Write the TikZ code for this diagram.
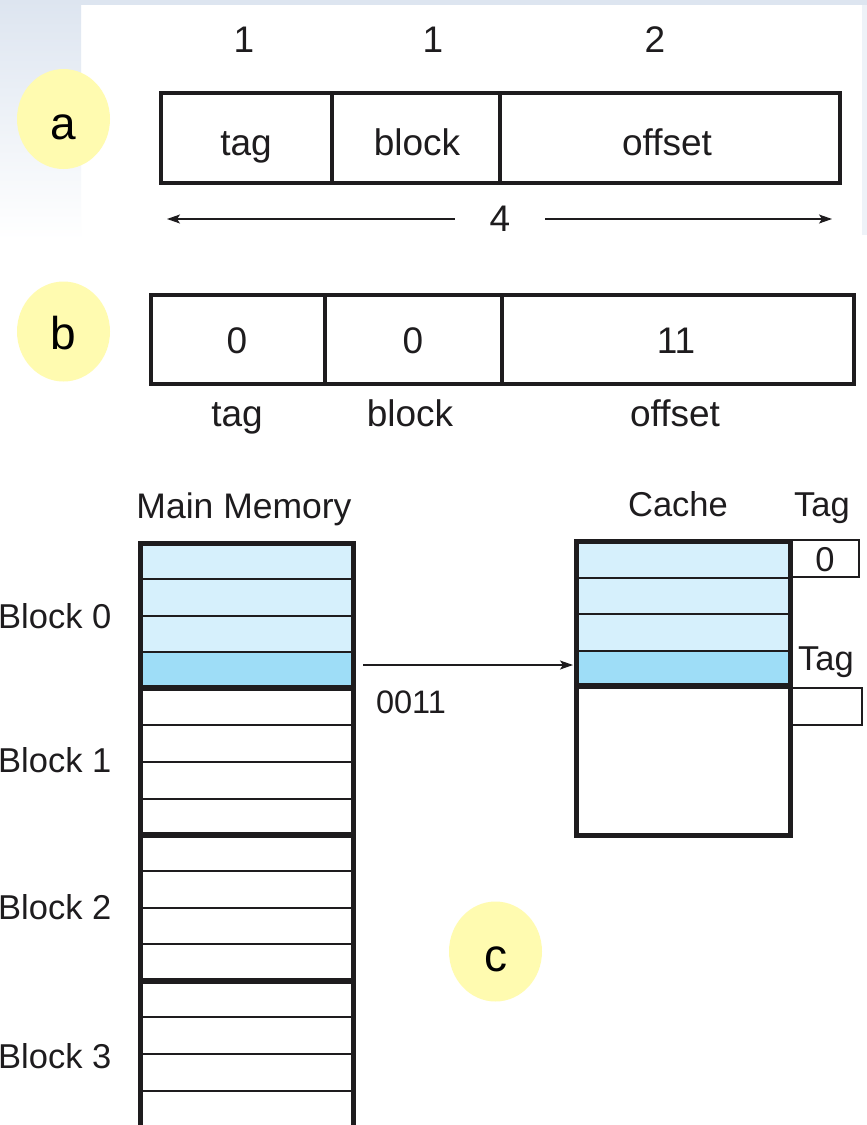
\documentclass[tikz,border=0pt]{standalone}
\usepackage{fontspec}
\setmainfont{Liberation Sans}
\usetikzlibrary{arrows.meta,shapes.geometric}

\definecolor{slidebg}{RGB}{221,229,240}
\definecolor{ink}{RGB}{30,28,30}
\definecolor{hilite}{RGB}{255,251,176}
\definecolor{linelight}{RGB}{214,240,252}
\definecolor{linedark}{RGB}{158,221,247}

\begin{document}
\begin{tikzpicture}[x=1pt,y=-1pt,
  frame/.style={draw=ink,line width=4.5pt},
  divider/.style={draw=ink,line width=3.5pt},
  rowline/.style={draw=ink,line width=1.3pt},
  blocksep/.style={draw=ink,line width=6pt},
  tagbox/.style={draw=ink,line width=1.2pt},
  fieldtxt/.style={text=ink,inner sep=0pt,anchor=base,font=\fontsize{37}{40}\selectfont},
  memtxt/.style={text=ink,inner sep=0pt,anchor=base,font=\fontsize{34.5}{40}\selectfont},
  badge/.style={ellipse,fill=hilite,inner sep=0pt,minimum width=93pt,minimum height=100pt},
  badgetxt/.style={text=black,inner sep=0pt,anchor=base,font=\fontsize{46}{50}\selectfont},
  dimarrow/.style={draw=ink,line width=1.2pt,-{Stealth[length=13pt,width=9pt,inset=3pt]}},
]
\useasboundingbox (0,0) rectangle (867,1125);
\clip (0,0) rectangle (867,1125);

% slide background
\fill[white] (0,0) rectangle (867,1125);
\shade[top color=slidebg,bottom color=white] (0,0) rectangle (81,240);
\fill[slidebg] (81,0) rectangle (867,5);
\fill[slidebg!50] (862,5) rectangle (867,235);

% part labels
\node[badge] (ba) at (63.5,119) {};
\node[badgetxt] (bat) at ([yshift=-20pt]ba.center) {a};
\node[badge] (bb) at (63.5,331.5) {};
\node[badgetxt] (bbt) at ([yshift=-18pt]bb.center) {b};
\node[badge] (bc) at (495.5,951.5) {};
\node[badgetxt] (bct) at ([yshift=-20pt]bc.center) {c};

% (a) address format with field widths
\node[fieldtxt] (wtag) at (244,52) {1};
\node[fieldtxt] (wblock) at (433,52) {1};
\node[fieldtxt] (woff) at (655,52) {2};
\draw[frame] (161,93) rectangle (840,183);
\draw[divider] (332,93) -- (332,183);
\draw[divider] (500,93) -- (500,183);
\node[fieldtxt] (ftag) at (246,155) {tag};
\node[fieldtxt] (fblock) at (417,155) {block};
\node[fieldtxt] (foff) at (667,155) {offset};
\node[text=ink,inner xsep=35pt,inner ysep=0pt,font=\fontsize{37}{40}\selectfont] (four) at (500,219) {4};
\coordinate (wl) at (167,219);
\coordinate (wr) at (832,219);
\draw[dimarrow] (four.west) -- (wl);
\draw[dimarrow] (four.east) -- (wr);

% (b) the address 0011 split into fields
\draw[frame] (151,295) rectangle (854,384);
\draw[divider] (325,295) -- (325,384);
\draw[divider] (502,295) -- (502,384);
\node[fieldtxt] (vtag) at (237,353) {0};
\node[fieldtxt] (vblock) at (413,353) {0};
\node[fieldtxt] (voff) at (676,353) {11};
\node[fieldtxt] (ltag) at (237,426) {tag};
\node[fieldtxt] (lblock) at (410,426) {block};
\node[fieldtxt] (loff) at (675,426) {offset};

% (c) main memory
\node[memtxt,font=\fontsize{35.5}{40}\selectfont] (mmtitle) at (244,518) {Main Memory};
\fill[linelight] (140,543) rectangle (353,652);
\fill[linedark] (140,652) rectangle (353,688);
\foreach \y in {579,616,652,725,762,799,871,908,944,1017,1054,1091}
  \draw[rowline] (140,\y) -- (353,\y);
\foreach \y in {688,835,981}
  \draw[blocksep] (140,\y) -- (353,\y);
\draw[frame,line width=5pt] (140,543) rectangle (353,1140);
\node[memtxt,anchor=base west] (blk0) at (-2,628) {Block 0};
\node[memtxt,anchor=base west] (blk1) at (-2,772) {Block 1};
\node[memtxt,anchor=base west] (blk2) at (-2,919) {Block 2};
\node[memtxt,anchor=base west] (blk3) at (-2,1068) {Block 3};

% cache with tags
\node[memtxt] (ctitle) at (678,516) {Cache};
\node[memtxt] (tagtitle) at (822,516) {Tag};
\fill[linelight] (576,541) rectangle (790,651);
\fill[linedark] (576,651) rectangle (790,686);
\foreach \y in {578,614,651}
  \draw[rowline] (576,\y) -- (790,\y);
\draw[blocksep] (576,686) -- (790,686);
\draw[frame,line width=5pt] (576,541) rectangle (790,835);
\draw[tagbox] (791,540) rectangle (859,577);
\node[memtxt] (tag0) at (825,571) {0};
\node[memtxt] (tagtitle2) at (826,670) {Tag};
\draw[tagbox] (792,688) rectangle (862,725);

% line 0011 copied into the cache
\coordinate (src) at (363,665);
\coordinate (dst) at (573,665);
\draw[dimarrow] (src) -- (dst);
\node[text=ink,inner sep=0pt,anchor=base,font=\fontsize{32.5}{36}\selectfont] (addr) at (411,713) {0011};
\end{tikzpicture}
\end{document}
